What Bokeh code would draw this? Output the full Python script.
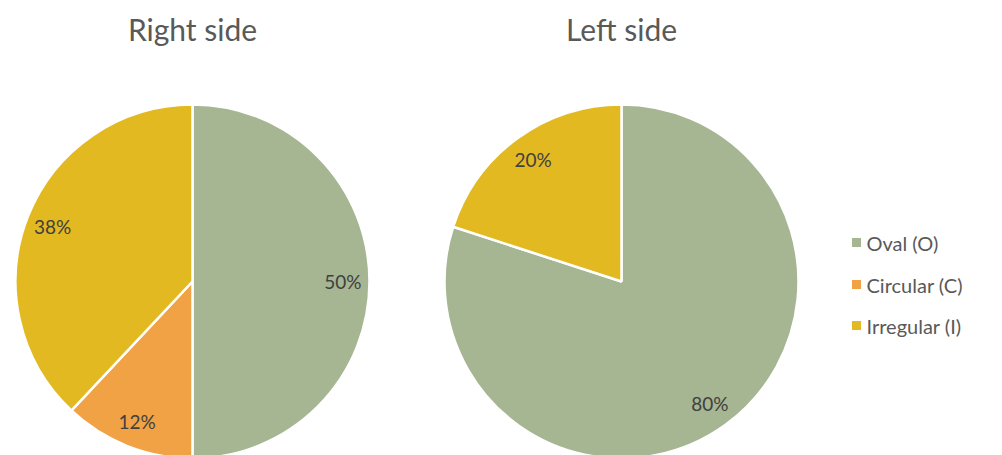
import math
from bokeh.plotting import figure
from bokeh.models import Range1d, ColumnDataSource
from bokeh.core.properties import value
from bokeh.embed import file_html
from bokeh.resources import INLINE

categories = ["Oval (O)", "Circular (C)", "Irregular (I)"]
colors = ["#a6b592", "#f0a244", "#e3b922"]
chart_titles = ["Right side", "Left side"]
right_side = [50, 12, 38]
left_side = [80, 0, 20]
series = [right_side, left_side]

W, H = 1002, 455
p = figure(width=W, height=H, output_backend="svg", toolbar_location=None,
           x_range=Range1d(0, W), y_range=Range1d(0, H), min_border=0)
p.axis.visible = False
p.grid.visible = False
p.outline_line_color = None
p.background_fill_color = "white"
p.border_fill_color = "white"

FONT = "Lato"
centers_x = [192, 621]
center_y = 174
radius = 177
label_frac = 0.85

for k, vals in enumerate(series):
    total = float(sum(vals))
    starts, ends, cols, lx, ly, lt = [], [], [], [], [], []
    cum = 0.0
    for v, c in zip(vals, colors):
        if v <= 0:
            continue
        a0 = cum / total
        a1 = (cum + v) / total
        starts.append(math.pi / 2 - a0 * 2 * math.pi)
        ends.append(math.pi / 2 - a1 * 2 * math.pi)
        cols.append(c)
        mid = (a0 + a1) / 2 * 2 * math.pi
        lx.append(centers_x[k] + label_frac * radius * math.sin(mid))
        ly.append(center_y + label_frac * radius * math.cos(mid))
        lt.append(f"{v}%")
        cum += v
    src = ColumnDataSource(dict(x=[centers_x[k]] * len(starts), y=[center_y] * len(starts),
                                s=starts, e=ends, c=cols))
    p.wedge(x="x", y="y", radius=radius, radius_units="screen", start_angle="s", end_angle="e",
            direction="clock", fill_color="c", line_color="white", line_width=2.5, source=src)
    p.text(x=lx, y=ly, text=lt, text_align="center", text_baseline="middle",
           text_font=value(FONT), text_font_size="19px", text_color="#404040")
    p.text(x=[centers_x[k]], y=[427], text=[chart_titles[k]], text_align="center",
           text_baseline="middle", text_font=value(FONT), text_font_size="30px",
           text_color="#595959")

leg_y = [213, 171, 130]
p.scatter(x=[856] * 3, y=leg_y, marker="square", size=9, fill_color=colors, line_color=None)
p.text(x=[866] * 3, y=leg_y, text=categories, text_align="left", text_baseline="middle",
       text_font=value(FONT), text_font_size="20px", text_color="#595959")

open("out.html", "w").write(file_html(p, INLINE))
